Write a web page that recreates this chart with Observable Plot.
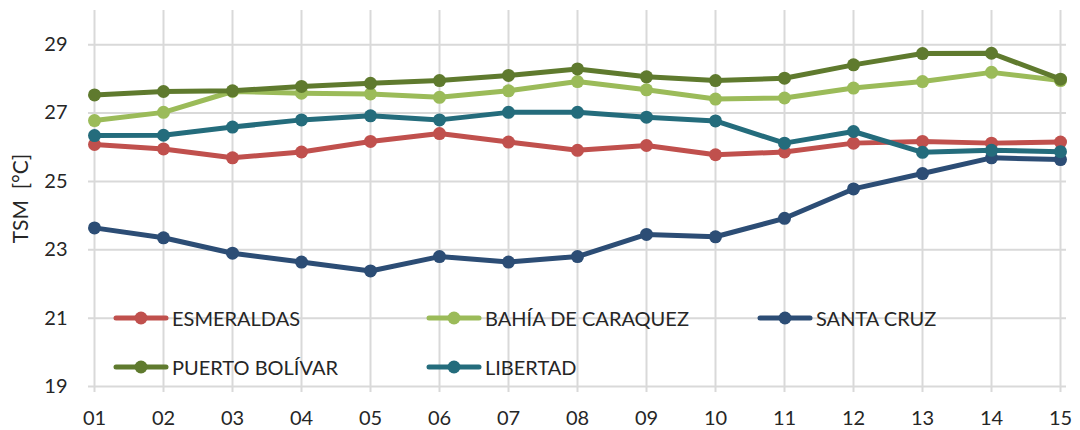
<!DOCTYPE html>
<html>
<head>
<meta charset="utf-8">
<script src="https://cdn.jsdelivr.net/npm/d3@7"></script>
<script src="https://cdn.jsdelivr.net/npm/@observablehq/plot@0.6"></script>
<style>
  html, body { margin: 0; padding: 0; background: #fff; }
  #wrap { position: relative; width: 1080px; height: 430px; font-family: Lato, "Open Sans", sans-serif; }
  #legend { position: absolute; left: 0; top: 0; width: 1080px; height: 430px; pointer-events: none; }
  .lg { position: absolute; display: flex; align-items: center; font-size: 20px; color: #262626; white-space: nowrap; }
  .lg svg { margin-right: 3px; }
  g[aria-label="y-axis label"], g[aria-label="y-axis label"] text { font-size: 21px !important; }
</style>
</head>
<body>
<div id="wrap"><div id="chart"></div><div id="legend"></div></div>
<script>
const days = ["01","02","03","04","05","06","07","08","09","10","11","12","13","14","15"];
const seriesNames = ["ESMERALDAS", "BAHÍA DE CARAQUEZ", "SANTA CRUZ", "PUERTO BOLÍVAR", "LIBERTAD"];
const seriesColors = ["#C0504D", "#9BBB59", "#2C4D75", "#5F7A2E", "#246C7C"];
const esmeraldas = [26.08, 25.95, 25.69, 25.86, 26.17, 26.40, 26.15, 25.91, 26.05, 25.78, 25.86, 26.12, 26.17, 26.12, 26.15];
const bahia      = [26.78, 27.02, 27.63, 27.58, 27.56, 27.46, 27.65, 27.92, 27.68, 27.41, 27.44, 27.73, 27.92, 28.19, 27.95];
const santaCruz  = [23.64, 23.35, 22.90, 22.64, 22.38, 22.80, 22.64, 22.80, 23.45, 23.38, 23.92, 24.78, 25.23, 25.69, 25.64];
const puertoBol  = [27.53, 27.63, 27.65, 27.78, 27.87, 27.95, 28.10, 28.29, 28.06, 27.95, 28.02, 28.41, 28.74, 28.75, 27.99];
const libertad   = [26.34, 26.35, 26.59, 26.80, 26.92, 26.80, 27.02, 27.02, 26.88, 26.77, 26.12, 26.46, 25.85, 25.91, 25.87];
const yTicks = [19, 21, 23, 25, 27, 29];

const seriesValues = [esmeraldas, bahia, santaCruz, puertoBol, libertad];
const data = [];
seriesNames.forEach((name, i) => {
  days.forEach((d, j) => data.push({series: name, day: d, value: seriesValues[i][j]}));
});

const lineMarks = seriesNames.flatMap((name, i) => {
  const sub = data.filter(r => r.series === name);
  return [
    Plot.line(sub, {x: "day", y: "value", stroke: seriesColors[i], strokeWidth: 5, strokeLinejoin: "round", strokeLinecap: "round"}),
    Plot.dot(sub, {x: "day", y: "value", fill: seriesColors[i], r: 6.5, stroke: "none"})
  ];
});

const chart = Plot.plot({
  width: 1080,
  height: 430,
  marginLeft: 88,
  marginRight: 14,
  marginTop: 10,
  marginBottom: 44,
  style: {fontFamily: "Lato, 'Open Sans', sans-serif", fontSize: "20px", color: "#262626", background: "#fff"},
  x: {type: "point", domain: days, padding: 0},
  y: {domain: [19, 30]},
  marks: [
    Plot.gridY(yTicks, {stroke: "#d9d9d9", strokeOpacity: 1, strokeWidth: 2}),
    Plot.ruleX(days, {y1: 19, y2: 30, stroke: "#d9d9d9", strokeWidth: 2}),
    Plot.axisX(days, {tickSize: 6, stroke: "#d9d9d9", strokeWidth: 2, tickPadding: 18, fill: "#262626", fontSize: 20, label: null}),
    Plot.axisY(yTicks, {tickSize: 0, tickPadding: 21, fill: "#262626", fontSize: 20, label: "TSM  [°C]", labelAnchor: "center", labelOffset: 75, labelArrow: "none"}),
    ...lineMarks
  ]
});
document.getElementById("chart").appendChild(chart);

// Legend (two rows inside the plot area)
const legendPos = [[113, 318], [426, 318], [757, 318], [113, 367], [426, 367]];
const legend = document.getElementById("legend");
seriesNames.forEach((name, i) => {
  const el = document.createElement("div");
  el.className = "lg";
  el.style.left = legendPos[i][0] + "px";
  el.style.top = (legendPos[i][1] - 13) + "px";
  el.style.height = "26px";
  el.innerHTML = `<svg width="56" height="16"><line x1="3" y1="8" x2="53" y2="8" stroke="${seriesColors[i]}" stroke-width="5" stroke-linecap="round"/><circle cx="28" cy="8" r="6.5" fill="${seriesColors[i]}"/></svg><span>${name}</span>`;
  legend.appendChild(el);
});
</script>
</body>
</html>
